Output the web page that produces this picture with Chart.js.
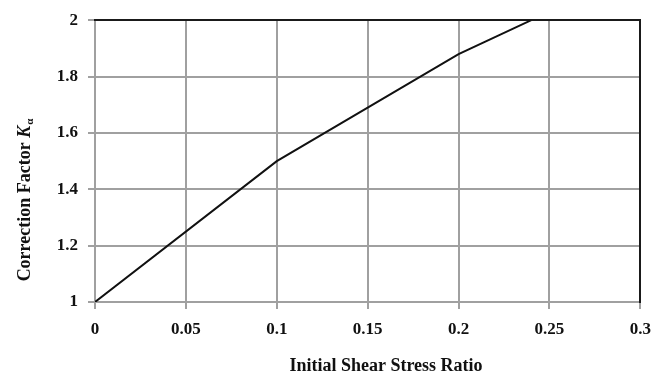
<!DOCTYPE html>
<html lang="en">
<head>
  <meta charset="UTF-8">
  <title>Correction Factor vs Initial Shear Stress Ratio</title>
  <script src="https://cdn.jsdelivr.net/npm/chart.js"></script>
  <style>
    html, body { margin: 0; padding: 0; background: #fff; }
    canvas { display: block; }
  </style>
</head>
<body>
  <canvas id="kChart" width="661" height="377"></canvas>

  <script>
    // curve points
    const shearRatio = [0, 0.1, 0.2, 0.24];
    const kAlpha = [1, 1.5, 1.88, 2];

    const xTitle = 'Initial Shear Stress Ratio';
    const yTitle = 'Correction Factor ';
    const serif = '"Liberation Serif", "Times New Roman", serif';
    const gridGray = '#a0a0a0';

    // 0.10 -> "0.1", 2.0 -> "2"
    const plainNumber = v => String(Number(v.toFixed(2)));

    // axis titles drawn by hand so K can carry its subscript
    const axisTitles = {
      id: 'axisTitles',
      afterDraw(chart) {
        const ctx = chart.ctx;
        ctx.save();
        ctx.fillStyle = '#111';
        ctx.font = `bold 18px ${serif}`;
        ctx.textAlign = 'center';
        ctx.textBaseline = 'middle';
        ctx.fillText(xTitle, 386, 366);

        ctx.translate(24, 200);
        ctx.rotate(-Math.PI / 2);
        ctx.textAlign = 'left';
        ctx.textBaseline = 'alphabetic';
        const mainFont = `bold 18px ${serif}`;
        const kFont = `italic bold 18px ${serif}`;
        const subFont = `bold 11px ${serif}`;
        ctx.font = mainFont;
        const w1 = ctx.measureText(yTitle).width;
        ctx.font = kFont;
        const w2 = ctx.measureText('K').width;
        ctx.font = subFont;
        const w3 = ctx.measureText('α').width;
        let x = -(w1 + w2 + w3 + 1) / 2;
        ctx.font = mainFont;
        ctx.fillText(yTitle, x, 6);
        x += w1;
        ctx.font = kFont;
        ctx.fillText('K', x, 6);
        x += w2 + 1;
        ctx.font = subFont;
        ctx.fillText('α', x, 9);
        ctx.restore();
      }
    };

    new Chart(document.getElementById('kChart'), {
      type: 'line',
      data: {
        datasets: [{
          data: shearRatio.map((x, i) => ({ x, y: kAlpha[i] })),
          borderColor: '#111',
          borderWidth: 2,
          pointRadius: 0,
          tension: 0,
          fill: false
        }]
      },
      plugins: [axisTitles],
      options: {
        responsive: false,
        animation: false,
        layout: { padding: { left: 0, top: 18, right: 20, bottom: 0 } },
        plugins: {
          legend: { display: false },
          tooltip: { enabled: false }
        },
        scales: {
          x: {
            type: 'linear',
            position: 'bottom',
            min: 0,
            max: 0.3,
            afterFit: s => { s.height = 75; },
            ticks: {
              stepSize: 0.05,
              padding: 10,
              color: '#111',
              font: { family: serif, size: 17, weight: 'bold' },
              callback: plainNumber
            },
            grid: { color: gridGray, lineWidth: 2, tickLength: 7 },
            border: { color: gridGray, width: 2 }
          },
          y: {
            type: 'linear',
            position: 'left',
            min: 1,
            max: 2,
            afterFit: s => { s.width = 95; },
            ticks: {
              stepSize: 0.2,
              padding: 10,
              color: '#111',
              font: { family: serif, size: 17, weight: 'bold' },
              callback: plainNumber
            },
            grid: { color: gridGray, lineWidth: 2, tickLength: 7 },
            border: { color: gridGray, width: 2 }
          },
          // black frame on the top and right of the plot
          x2: {
            type: 'linear',
            position: 'top',
            display: true,
            min: 0,
            max: 0.3,
            z: 1,
            afterFit: s => { s.height = 0; },
            ticks: { display: false },
            grid: { display: false, drawTicks: false },
            border: { color: '#1a1a1a', width: 2 }
          },
          y2: {
            type: 'linear',
            position: 'right',
            display: true,
            min: 1,
            max: 2,
            z: 1,
            afterFit: s => { s.width = 0; },
            ticks: { display: false },
            grid: { display: false, drawTicks: false },
            border: { color: '#1a1a1a', width: 2 }
          }
        }
      }
    });
  </script>
</body>
</html>
